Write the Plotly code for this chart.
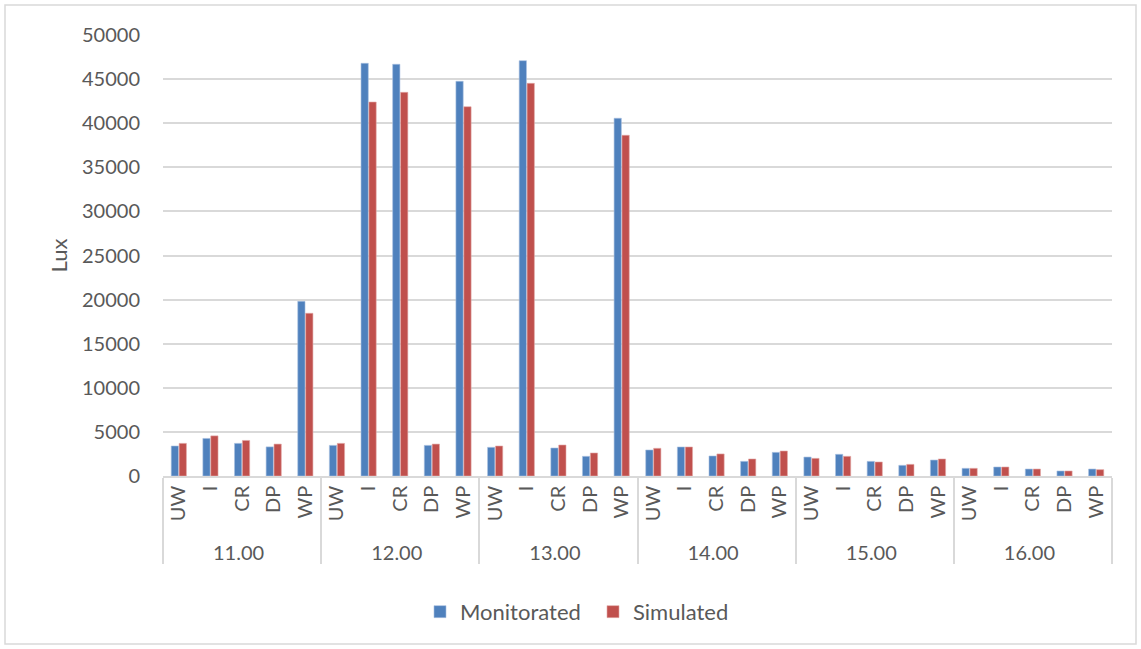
import plotly.graph_objects as go

hours = ["11.00", "12.00", "13.00", "14.00", "15.00", "16.00"]
points = ["UW", "I", "CR", "DP", "WP"]

monitorated = [3400, 4260, 3700, 3300, 19800,
               3470, 46790, 46680, 3470, 44750,
               3250, 47090, 3175, 2230, 40560,
               2950, 3290, 2270, 1660, 2680,
               2150, 2460, 1660, 1210, 1810,
               870, 1020, 790, 570, 790]
simulated = [3700, 4550, 4030, 3620, 18450,
             3700, 42400, 43500, 3620, 41870,
             3400, 44520, 3515, 2610, 38630,
             3140, 3290, 2500, 1930, 2835,
             2000, 2230, 1590, 1320, 1930,
             870, 1020, 790, 570, 720]

x_outer = [h for h in hours for _ in points]
x_inner = [p for _ in hours for p in points]

font = "Lato, 'Open Sans', sans-serif"
txt = "#595959"

fig = go.Figure()
fig.add_trace(go.Bar(x=[x_outer, x_inner], y=monitorated, name="Monitorated",
                     marker=dict(color="#4F81BD", line=dict(color="#A9C1E0", width=0.6))))
fig.add_trace(go.Bar(x=[x_outer, x_inner], y=simulated, name="Simulated",
                     marker=dict(color="#C0504D", line=dict(color="#E3A9A7", width=0.6))))

fig.update_layout(
    width=1141, height=649,
    margin=dict(l=163, r=29, t=35, b=173),
    paper_bgcolor="white", plot_bgcolor="white",
    barmode="group", bargap=0.5, bargroupgap=0.08,
    font=dict(family=font, color=txt, size=20),
    legend=dict(orientation="h", x=(420 - 163) / 949, xanchor="left", y=-0.308,
                yanchor="middle", font=dict(size=22, color=txt), traceorder="normal",
                entrywidth=128, entrywidthmode="pixels"),
    shapes=[dict(type="rect", xref="paper", yref="paper",
                 x0=-158/949, x1=(1136 - 163)/949, y0=(476 - 644)/441, y1=(476 - 5)/441,
                 line=dict(color="#D9D9D9", width=1.5), fillcolor="rgba(0,0,0,0)", layer="below")],
)
fig.update_xaxes(type="multicategory", tickangle=-90, showline=True, linecolor="#D9D9D9",
                 linewidth=1.5, showdividers=True, dividercolor="#D9D9D9", dividerwidth=1.5,
                 ticks="", tickfont=dict(size=20, color=txt))
fig.update_yaxes(range=[0, 50000], dtick=5000, tickformat="d", showgrid=True, gridcolor="#D9D9D9",
                 gridwidth=1.5, zeroline=False, ticks="", ticklen=0, ticklabelstandoff=22,
                 tickfont=dict(size=20, color=txt),
                 title=dict(text="Lux", font=dict(size=22, color=txt), standoff=8))

fig.write_html("out.html")
